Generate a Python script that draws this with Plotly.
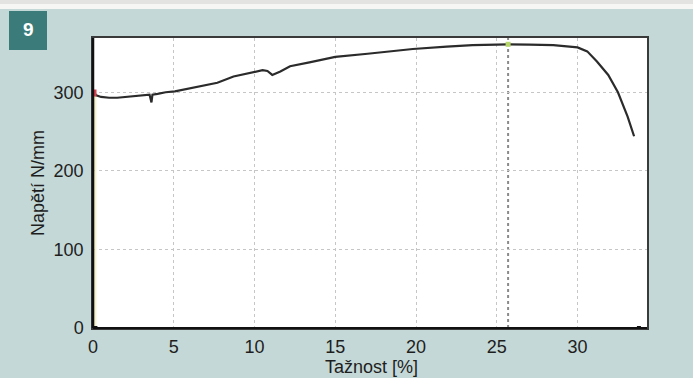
import plotly.graph_objects as go

# Data (strain %, stress N/mm2)
strain = [0.0, 0.0, 0.05, 0.2, 0.5, 1.0, 1.5, 2.0, 2.5, 3.0, 3.5, 3.62, 3.65, 3.68, 4.0, 4.5,
          5.07, 5.8, 6.6, 7.7, 8.7, 9.7, 10.5, 10.8, 11.1, 11.6, 12.2, 13.4, 15.0, 17.0,
          19.8, 21.9, 23.5, 25.0, 25.7, 27.0, 28.5, 30.0, 30.6, 31.2, 31.9, 32.5, 33.1, 33.5]
stress = [0.0, 299, 300, 296, 294, 293, 293, 294, 295, 296, 297, 287, 296, 297, 298, 300,
          301, 304, 307, 312, 320, 324, 328, 327, 322, 326.5, 333, 338, 345, 349,
          355, 358, 360, 360.5, 361, 360.5, 360, 357, 352, 339, 322, 300, 269, 244]

x_ticks = [0, 5, 10, 15, 20, 25, 30]
y_ticks = [0, 100, 200, 300]
x_title = "Tažnost [%]"
y_title = "Napětí N/mm"
badge = "9"

imax = max(range(len(stress)), key=lambda i: stress[i])
yield_idx = 1

W, H = 693, 378
L, R, T, B = 93, 46, 38, 50
pw, ph = W - L - R, H - T - B
FONT = "Liberation Sans, Arial, Helvetica"

def px(xp):
    return (xp - L) / pw

def py(yp):
    return (H - B - yp) / ph

fig = go.Figure()

# faint yellow tint along the elastic rise
fig.add_trace(go.Scatter(x=[0.15, 0.15], y=[0, stress[yield_idx]], mode="lines",
                         line=dict(color="#f7f2c4", width=2), hoverinfo="skip", showlegend=False))
# main curve
fig.add_trace(go.Scatter(x=strain, y=stress, mode="lines",
                         line=dict(color="#2b2b2b", width=2.2), showlegend=False))
# markers
fig.add_trace(go.Scatter(x=[strain[yield_idx]], y=[stress[yield_idx]], mode="markers",
                         marker=dict(color="#d9434e", size=7, symbol="square"), showlegend=False))
fig.add_trace(go.Scatter(x=[strain[imax]], y=[stress[imax]], mode="markers",
                         marker=dict(color="#b6d66a", size=5, symbol="square"), showlegend=False))
fig.add_trace(go.Scatter(x=[strain[-1] + 0.3, 0.15], y=[0, 0], mode="markers",
                         marker=dict(color="#111111", size=4, symbol="square"), showlegend=False))

shapes = [
    # top bands
    dict(type="rect", xref="paper", yref="paper", x0=px(0), x1=px(W), y0=py(4), y1=py(0),
         fillcolor="#e3e4e1", line=dict(width=0), layer="below"),
    dict(type="rect", xref="paper", yref="paper", x0=px(0), x1=px(W), y0=py(9), y1=py(4),
         fillcolor="#f6f6f4", line=dict(width=0), layer="below"),
    # badge
    dict(type="rect", xref="paper", yref="paper", x0=px(9), x1=px(47), y0=py(50), y1=py(11),
         fillcolor="#3b7c7a", line=dict(width=0)),
    # max marker line
    dict(type="line", xref="x", yref="paper", x0=strain[imax], x1=strain[imax], y0=0, y1=1,
         line=dict(color="#8a8a8a", width=2, dash="dot"), layer="below"),
    # thick left/bottom axes
    dict(type="line", xref="paper", yref="paper", x0=0, x1=0, y0=0, y1=1,
         line=dict(color="#111111", width=2.5)),
    dict(type="line", xref="paper", yref="paper", x0=0, x1=1, y0=0, y1=0,
         line=dict(color="#111111", width=2.2)),
]

annotations = [
    dict(text="<b>" + badge + "</b>", xref="paper", yref="paper", x=px(28), y=py(30),
         showarrow=False, font=dict(family=FONT, size=19, color="white"),
         xanchor="center", yanchor="middle"),
    dict(text=x_title, xref="paper", yref="paper", x=px(371), y=py(367), showarrow=False,
         font=dict(family=FONT, size=18, color="#1e1e1e"),
         xanchor="center", yanchor="middle"),
    dict(text=y_title, xref="paper", yref="paper", x=px(38), y=py(183), showarrow=False,
         textangle=-90, font=dict(family=FONT, size=18, color="#1e1e1e"),
         xanchor="center", yanchor="middle"),
]

fig.update_layout(
    width=W, height=H,
    margin=dict(l=L, r=R, t=T, b=B),
    paper_bgcolor="#c4d8d7",
    plot_bgcolor="#ffffff",
    shapes=shapes,
    annotations=annotations,
    font=dict(family=FONT, size=18, color="#1e1e1e"),
    showlegend=False,
)
fig.update_xaxes(range=[0, 34.3], tickvals=x_ticks, ticktext=[str(v) for v in x_ticks],
                 showgrid=True, gridcolor="#c6c6c6", griddash="dot", gridwidth=1,
                 showline=True, linecolor="#3a3a3a", linewidth=1.5, mirror=True,
                 ticks="", zeroline=False, ticklabelstandoff=2)
fig.update_yaxes(range=[0, 369], tickvals=y_ticks, ticktext=[str(v) for v in y_ticks],
                 showgrid=True, gridcolor="#c6c6c6", griddash="dot", gridwidth=1,
                 showline=True, linecolor="#3a3a3a", linewidth=1.5, mirror=True,
                 ticks="", zeroline=False, ticklabelstandoff=4)

fig.write_html("out.html", config={"displayModeBar": False},
               post_script="document.body.style.margin='0';document.body.style.padding='0';")
